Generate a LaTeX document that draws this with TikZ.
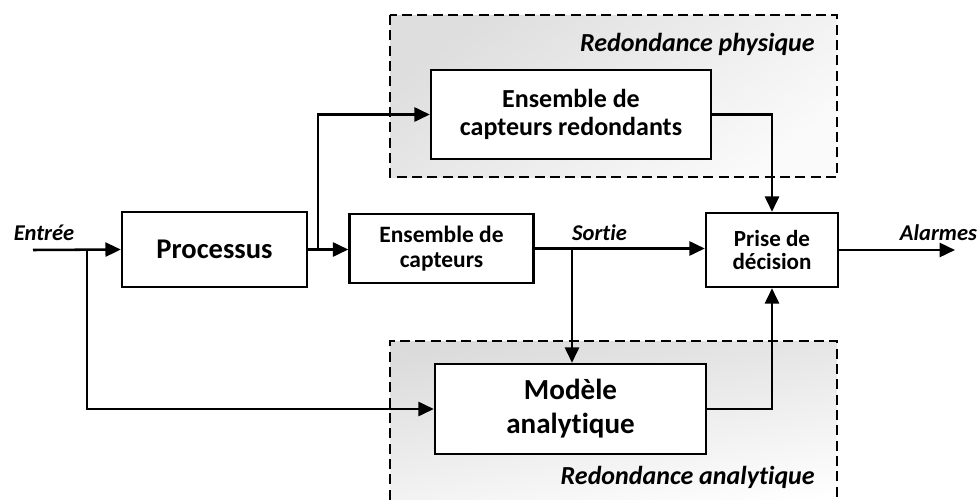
\documentclass[tikz,border=0pt]{standalone}
\usepackage{fontspec}
\setmainfont[Ligatures=NoCommon, RawFeature={-liga;-clig;-calt;-dlig}]{Carlito}
\usetikzlibrary{arrows.meta}

\tikzset{
  blk/.style={draw=black, line width=1.8pt, fill=white, align=center,
              font=\bfseries, inner sep=0pt},
  flow/.style={line width=1.9pt, -{Triangle[length=11.5pt,width=10.5pt]}},
  zone/.style={draw=black, line width=1.8pt, dash pattern=on 7.5pt off 4pt},
  sig/.style={font=\bfseries\itshape\fontsize{16.9}{20}\selectfont, inner sep=0pt, anchor=base},
  zonelbl/.style={font=\bfseries\itshape\fontsize{19.5}{23}\selectfont, inner sep=0pt, anchor=base east},
}

\begin{document}
\begin{tikzpicture}[x=0.75pt, y=-0.75pt]
  \useasboundingbox (0,0) rectangle (979,500);

  % grouping areas
  \shade[top color=black!13, bottom color=black!2, shading angle=35] (390,15) rectangle (837,177);
  \draw[zone] (390,15) rectangle (837,177);
  \shade[top color=black!14, bottom color=white, shading angle=10] (390,341) rectangle (837,515);
  \draw[zone] (390,515) -- (390,341) -- (837,341) -- (837,515);

  \node[zonelbl] (lphys) at (815,51) {Redondance physique};
  \node[zonelbl] (lana) at (815,484) {Redondance analyt\kern0pt ique};

  % blocks
  \node[blk, minimum width=185*0.75pt, minimum height=75*0.75pt,
        font=\bfseries\fontsize{21.4}{25}\selectfont] (proc) at (214.5,249.5) {Processus};
  \node[blk, minimum width=184*0.75pt, minimum height=69*0.75pt,
        font=\bfseries\fontsize{17.6}{18.2}\selectfont] (capt) at (441.5,248.5) {Ensemble de\\capteurs};
  \node[blk, minimum width=280*0.75pt, minimum height=89*0.75pt,
        font=\bfseries\fontsize{19.5}{21.2}\selectfont] (redo) at (571,114.5) {Ensemble de\\capteurs redondants};
  \node[blk, minimum width=132*0.75pt, minimum height=74*0.75pt,
        font=\bfseries\fontsize{17.3}{17.6}\selectfont] (dec) at (772,250) {Prise de\\décision};
  \node[blk, minimum width=271*0.75pt, minimum height=90*0.75pt,
        font=\bfseries\fontsize{21.8}{25.6}\selectfont] (mod) at (570.5,409) {Modèle\\analyt\kern0pt ique};

  % signal labels
  \node[sig] (lin) at (44,240) {Entrée};
  \node[sig] (lout) at (599.5,240) {Sort\kern0pt ie};
  \node[sig] (lalarm) at (938.5,240) {Alarmes};

  % connection points
  \coordinate (in) at (33,250);
  \coordinate (j1) at (87,250);
  \coordinate (j2) at (318,250);
  \coordinate (j3) at (572,249.5);
  \coordinate (out) at (955,250);

  % connectors
  \draw[flow] (in) -- (proc.west);
  \draw[flow] (j1) |- (mod.west);
  \draw[flow] (proc.east) -- (capt.west |- proc.east);
  \draw[flow] (j2) |- (redo.west);
  \draw[flow] (capt.east) -- (dec.west |- capt.east);
  \draw[flow] (j3) -- (j3 |- mod.north);
  \draw[flow] (redo.east) -| (dec.north);
  \draw[flow] (mod.east) -| (dec.south);
  \draw[flow] (dec.east) -- (out);
\end{tikzpicture}
\end{document}
